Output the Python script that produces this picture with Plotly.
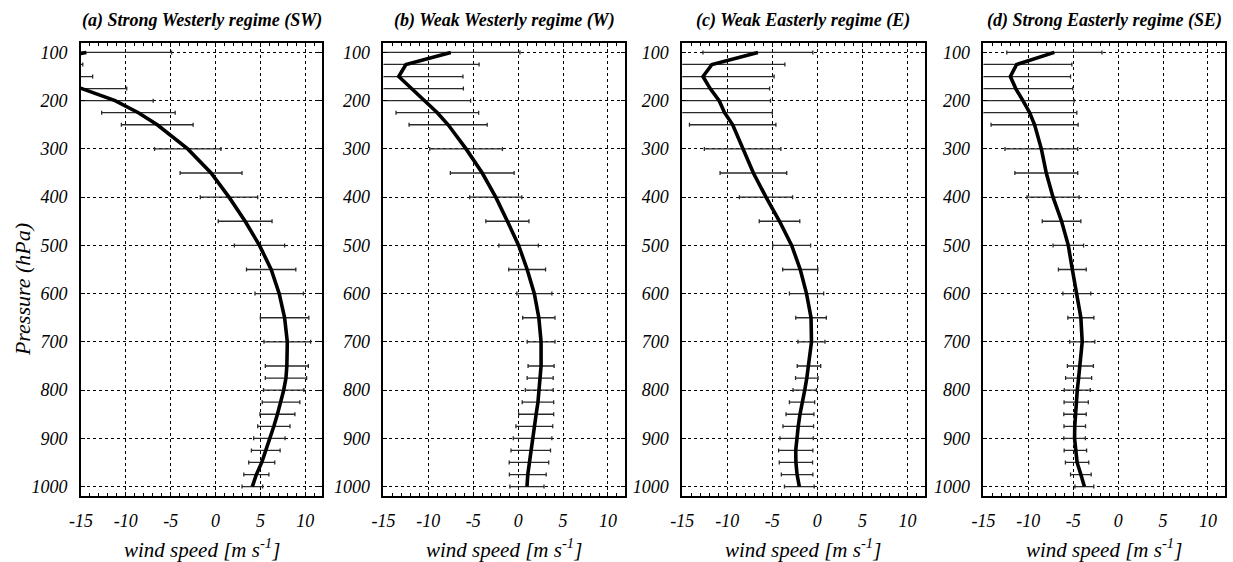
import plotly.graph_objects as go

levels = [100, 125, 150, 175, 200, 225, 250, 300, 350, 400, 450, 500, 550, 600,
          650, 700, 750, 775, 800, 825, 850, 875, 900, 925, 950, 975, 1000]

titles = ["(a) Strong Westerly regime (SW)", "(b) Weak Westerly regime (W)",
          "(c) Weak Easterly regime (E)", "(d) Strong Easterly regime (SE)"]

sw_mean = [-14.4, -22.0, -19.5, -14.9, -11.2, -8.6, -6.5, -3.1, -0.5, 1.5, 3.3, 4.9, 6.2, 7.1,
           7.7, 8.0, 7.95, 7.85, 7.6, 7.3, 6.9, 6.5, 6.0, 5.6, 5.15, 4.55, 4.1]
sw_std = [9.5, 7.2, 5.8, 5.0, 4.25, 4.1, 4.0, 3.7, 3.45, 3.2, 3.0, 2.8, 2.75, 2.7,
          2.7, 2.6, 2.4, 2.3, 2.25, 2.1, 1.95, 1.8, 1.75, 1.6, 1.45, 1.4, 1.15]

w_mean = [-7.5, -12.5, -13.3, -11.9, -10.4, -9.0, -7.8, -5.8, -4.0, -2.5, -1.2, 0.05, 1.0, 1.8,
          2.3, 2.55, 2.55, 2.45, 2.35, 2.2, 2.0, 1.8, 1.6, 1.4, 1.2, 1.07, 0.98]
w_std = [7.7, 8.15, 7.15, 5.8, 5.1, 4.6, 4.35, 4.05, 3.55, 2.9, 2.4, 2.2, 2.05, 1.95,
         1.8, 1.55, 1.45, 1.45, 1.55, 1.75, 1.95, 2.05, 2.15, 2.2, 2.2, 2.05, 1.9]

e_mean = [-6.6, -11.7, -12.7, -11.9, -10.9, -10.3, -9.4, -8.3, -7.1, -5.7, -4.2, -2.85, -1.9, -1.2,
          -0.7, -0.65, -0.93, -1.17, -1.4, -1.7, -1.93, -2.12, -2.3, -2.4, -2.38, -2.25, -2.0]
e_std = [6.1, 8.1, 7.9, 6.6, 5.7, 5.3, 4.8, 4.25, 3.7, 2.95, 2.25, 2.1, 1.95, 1.9,
         1.7, 1.5, 1.3, 1.25, 1.3, 1.4, 1.55, 1.7, 1.85, 1.9, 1.85, 1.75, 1.65]

se_mean = [-7.1, -11.3, -12.0, -11.4, -10.6, -9.85, -9.3, -8.55, -8.0, -7.25, -6.3, -5.55, -5.1, -4.6,
           -4.15, -4.0, -4.2, -4.4, -4.55, -4.67, -4.8, -4.83, -4.85, -4.76, -4.57, -4.15, -3.76]
se_std = [5.3, 6.15, 6.7, 6.35, 5.7, 5.25, 4.85, 4.05, 3.5, 2.9, 2.15, 1.7, 1.55, 1.55,
          1.45, 1.4, 1.45, 1.45, 1.45, 1.35, 1.25, 1.2, 1.2, 1.25, 1.3, 1.15, 1.05]

x_ticks = [-15, -10, -5, 0, 5, 10]
y_ticks = [100, 200, 300, 400, 500, 600, 700, 800, 900, 1000]

means = [sw_mean, w_mean, e_mean, se_mean]
stds = [sw_std, w_std, e_std, se_std]

W, H = 1233, 562
ml, mr, mt, mb = 81, 6, 43, 66
pw = W - ml - mr
ph = H - mt - mb
px_dom = [(81, 322.7), (384, 626), (683.3, 926), (985, 1227)]
domains = [((a - ml) / pw, (b - ml) / pw) for a, b in px_dom]

FONT = "Liberation Serif, Times New Roman, Times, serif"

fig = go.Figure()
annotations = []
for i in range(4):
    ax = "" if i == 0 else str(i + 1)
    xa, ya = "x" + ax, "y" + ax
    fig.add_trace(go.Scatter(
        x=means[i], y=levels, mode="markers",
        marker=dict(size=1, color="rgba(0,0,0,0)"),
        error_x=dict(type="data", array=stds[i], symmetric=True,
                     color="#2a2a2a", thickness=1.3, width=2),
        xaxis=xa, yaxis=ya, showlegend=False, hoverinfo="skip"))
    fig.add_trace(go.Scatter(
        x=means[i], y=levels, mode="lines",
        line=dict(color="black", width=3.6),
        xaxis=xa, yaxis=ya, showlegend=False))
    xkey = "xaxis" + ax
    ykey = "yaxis" + ax
    fig.layout[xkey] = dict(
        domain=list(domains[i]), range=[-15, 11.9], anchor=ya,
        tickvals=x_ticks, ticktext=[str(v) for v in x_ticks],
        showgrid=True, gridcolor="black", griddash="dot", gridwidth=1,
        zeroline=False, showline=True, linecolor="black", linewidth=1.6,
        mirror="allticks", ticks="inside", ticklen=4, tickcolor="black",
        minor=dict(dtick=1, ticks="inside", ticklen=3, tickcolor="black", showgrid=False),
        tickfont=dict(family=FONT, size=18, color="black", style="italic"),
        ticklabelstandoff=8)
    fig.layout[ykey] = dict(
        domain=[0, 1], range=[1019.5, 80.5], anchor=xa,
        tickvals=y_ticks, ticktext=[str(v) for v in y_ticks],
        showgrid=True, gridcolor="black", griddash="dot", gridwidth=1,
        zeroline=False, showline=True, linecolor="black", linewidth=1.6,
        mirror="allticks", ticks="inside", ticklen=4, tickcolor="black",
        tickfont=dict(family=FONT, size=18, color="black", style="italic"),
        ticklabelstandoff=8)
    cx = (domains[i][0] + domains[i][1]) / 2
    annotations.append(dict(
        text=titles[i], xref="paper", yref="paper", x=cx, y=1 + (mt - 21) / ph,
        showarrow=False, xanchor="center", yanchor="middle",
        font=dict(family=FONT, size=18, color="black", weight="bold", style="italic")))
    annotations.append(dict(
        text="wind speed [m s<sup>-1</sup>]", xref="paper", yref="paper", x=cx,
        y=-(548 - (H - mb)) / ph,
        showarrow=False, xanchor="center", yanchor="middle",
        font=dict(family=FONT, size=21, color="black", style="italic")))

annotations.append(dict(
    text="Pressure (hPa)", xref="paper", yref="paper",
    x=(22 - ml) / pw, y=((H - mb) - 290) / ph, textangle=-90,
    showarrow=False, xanchor="center", yanchor="middle",
    font=dict(family=FONT, size=22, color="black", style="italic")))

fig.update_layout(
    width=W, height=H,
    margin=dict(l=ml, r=mr, t=mt, b=mb),
    paper_bgcolor="white", plot_bgcolor="white",
    annotations=annotations,
    font=dict(family=FONT, color="black"))

fig.write_html("out.html", config={"displayModeBar": False},
               post_script="document.body.style.margin='0';document.body.style.padding='0';")
